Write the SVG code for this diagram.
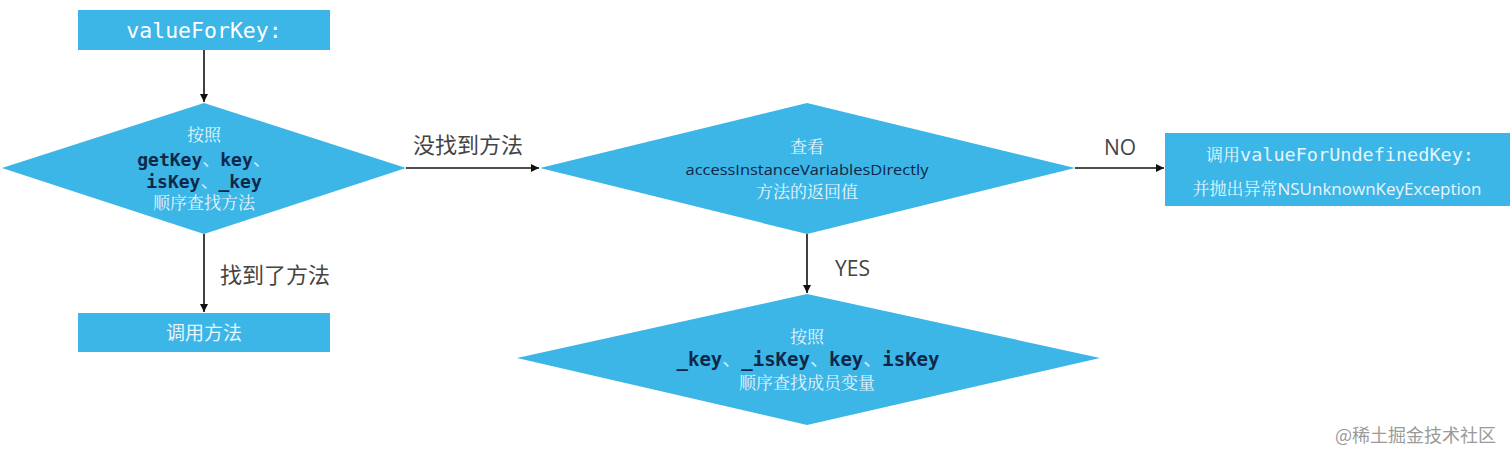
<svg xmlns="http://www.w3.org/2000/svg" width="1512" height="461" viewBox="0 0 1512 461">
<defs>
<marker id="ah" viewBox="0 0 10 10" refX="10" refY="5" markerWidth="8" markerHeight="8" markerUnits="userSpaceOnUse" orient="auto">
<path d="M0,0 L10,5 L0,10 z" fill="#111"/>
</marker>
<style>
.shape{fill:#3cb5e7;}
.mono{font-family:"DejaVu Sans Mono","Liberation Mono",monospace;}
.cjkw{font-family:"Noto Serif CJK SC","Noto Sans CJK SC",serif;fill:#e6f6fc;font-size:17px;text-anchor:middle;}
.code{font-family:"DejaVu Sans Mono","Liberation Mono","Noto Sans CJK SC",monospace;font-weight:bold;fill:#0f2748;font-size:18px;text-anchor:middle;}
.sep{fill:#cfeefa;font-weight:normal;}
.lbl{font-family:"Noto Sans CJK SC","Noto Sans",sans-serif;fill:#444;font-size:22px;}
.conn{stroke:#111;stroke-width:1.6;fill:none;marker-end:url(#ah);}
</style>
</defs>
<rect width="1512" height="461" fill="#ffffff"/>

<g id="connectors">
<line class="conn" x1="204" y1="50" x2="204" y2="102"/>
<line class="conn" x1="204" y1="234" x2="204" y2="312"/>
<line class="conn" x1="406" y1="168" x2="539" y2="168"/>
<line class="conn" x1="1075" y1="168" x2="1164" y2="168"/>
<line class="conn" x1="807" y1="234" x2="807" y2="293"/>
<text class="lbl" x="220" y="283">找到了方法</text>
<text class="lbl" x="413" y="153">没找到方法</text>
<text class="lbl" x="1104" y="155" style="font-family:'Open Sans','Noto Sans',sans-serif;font-size:21px">NO</text>
<text class="lbl" x="835" y="276" style="font-family:'Open Sans','Noto Sans',sans-serif;font-size:21px">YES</text>
</g>

<g id="start">
<rect class="shape" x="78" y="10" width="252" height="40"/>
<text class="mono" x="204" y="38" font-size="21.5" fill="#ffffff" text-anchor="middle">valueForKey:</text>
</g>

<g id="decision-method">
<polygon class="shape" points="204,103 406,168 204,234 2,168"/>
<text class="cjkw" x="204" y="141">按照</text>
<text class="code" x="204" y="166">getKey<tspan class="sep">、</tspan>key<tspan class="sep">、</tspan></text>
<text class="code" x="204" y="188">isKey<tspan class="sep">、</tspan>_key</text>
<text class="cjkw" x="204" y="209">顺序查找方法</text>
</g>

<g id="call-method">
<rect class="shape" x="78" y="313" width="252" height="39"/>
<text x="204" y="340" font-family="'Noto Sans CJK SC',sans-serif" font-size="19" fill="#e6f6fc" text-anchor="middle">调用方法</text>
</g>

<g id="decision-access">
<polygon class="shape" points="807,103 1075,168 807,234 540,168"/>
<text class="cjkw" x="807" y="153">查看</text>
<text x="807" y="175" font-family="'Open Sans','Noto Sans',sans-serif" font-size="15" fill="#0f2748" text-anchor="middle" textLength="243" lengthAdjust="spacingAndGlyphs">accessInstanceVariablesDirectly</text>
<text class="cjkw" x="807" y="198">方法的返回值</text>
</g>

<g id="undefined-key">
<rect class="shape" x="1165" y="133" width="345" height="73"/>
<text x="1340" y="161" fill="#e6f6fc" text-anchor="middle"><tspan font-family="'Noto Serif CJK SC','Noto Sans CJK SC',serif" font-size="17">调用</tspan><tspan font-family="'DejaVu Sans Mono',monospace" font-size="18.5">valueForUndefinedKey:</tspan></text>
<text x="1337" y="195" fill="#e6f6fc" text-anchor="middle"><tspan font-family="'Noto Serif CJK SC','Noto Sans CJK SC',serif" font-size="17">并抛出异常</tspan><tspan font-family="'Open Sans','Noto Sans',sans-serif" font-size="17">NSUnknownKeyException</tspan></text>
</g>

<g id="decision-ivar">
<polygon class="shape" points="807,294 1100,358 807,425 517,358"/>
<text class="cjkw" x="807" y="343">按照</text>
<text class="code" x="808" y="366" style="font-size:19px">_key<tspan class="sep">、</tspan>_isKey<tspan class="sep">、</tspan>key<tspan class="sep">、</tspan>isKey</text>
<text class="cjkw" x="807" y="389">顺序查找成员变量</text>
</g>

<text x="1335" y="442" font-family="'Noto Sans CJK SC',sans-serif" font-size="18" fill="#9a9a9a">@稀土掘金技术社区</text>
</svg>
